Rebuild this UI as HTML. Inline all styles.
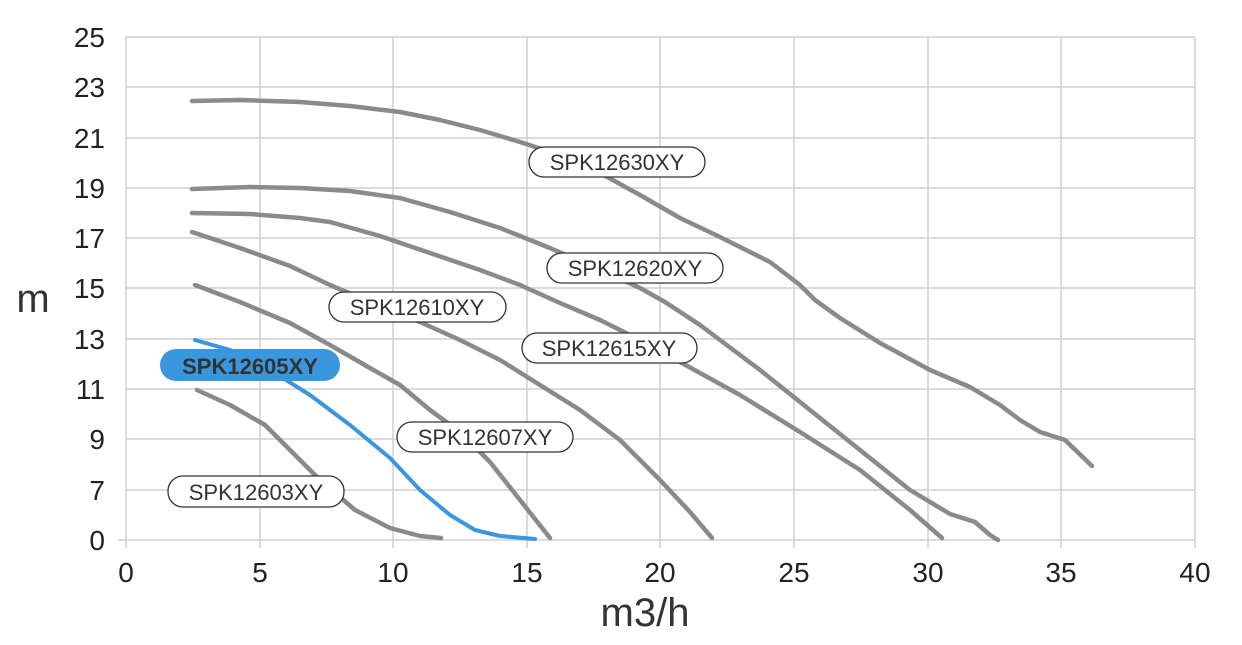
<!DOCTYPE html>
<html><head><meta charset="utf-8"><style>
body{margin:0;background:#fff}
svg{display:block}
text{font-family:"Liberation Sans",sans-serif}
</style></head><body>
<svg width="1242" height="645" viewBox="0 0 1242 645">
<g stroke="#d0d0d0" stroke-width="1.5">
<line x1="126" y1="37" x2="1195" y2="37"/><line x1="126" y1="87" x2="1195" y2="87"/>
<line x1="126" y1="138" x2="1195" y2="138"/><line x1="126" y1="188" x2="1195" y2="188"/>
<line x1="126" y1="238" x2="1195" y2="238"/><line x1="126" y1="288" x2="1195" y2="288"/>
<line x1="126" y1="339" x2="1195" y2="339"/><line x1="126" y1="389" x2="1195" y2="389"/>
<line x1="126" y1="439" x2="1195" y2="439"/><line x1="126" y1="490" x2="1195" y2="490"/>
<line x1="118" y1="540" x2="1195" y2="540"/>
<line x1="126" y1="37" x2="126" y2="548"/><line x1="260" y1="37" x2="260" y2="548"/>
<line x1="393" y1="37" x2="393" y2="548"/><line x1="527" y1="37" x2="527" y2="548"/>
<line x1="660" y1="37" x2="660" y2="548"/><line x1="794" y1="37" x2="794" y2="548"/>
<line x1="928" y1="37" x2="928" y2="548"/><line x1="1061" y1="37" x2="1061" y2="548"/>
<line x1="1195" y1="37" x2="1195" y2="548"/>
</g>
<g fill="#222" font-size="28" text-anchor="end">
<text x="105" y="47">25</text><text x="105" y="97">23</text><text x="105" y="148">21</text>
<text x="105" y="198">19</text><text x="105" y="248">17</text><text x="105" y="298">15</text>
<text x="105" y="349">13</text><text x="105" y="399">11</text><text x="105" y="449">9</text>
<text x="105" y="500">7</text><text x="105" y="550">0</text>
</g>
<g fill="#222" font-size="28" text-anchor="middle">
<text x="126" y="582">0</text><text x="260" y="582">5</text><text x="393" y="582">10</text>
<text x="527" y="582">15</text><text x="660" y="582">20</text><text x="794" y="582">25</text>
<text x="928" y="582">30</text><text x="1061" y="582">35</text><text x="1195" y="582">40</text>
</g>
<text x="33" y="312" font-size="40" fill="#333" text-anchor="middle">m</text>
<text x="645" y="626" font-size="40" fill="#333" text-anchor="middle">m3/h</text>
<g fill="none" stroke="#8a8a8a" stroke-width="4.5" stroke-linejoin="round" stroke-linecap="round">
<polyline points="192,101 240,100 300,102 350,106 400,112 440,120 480,130 520,142 560,155 600,173 640,195 680,218 720,237 770,262 800,285 815,300 840,318 880,343 930,370 970,387 1000,405 1020,420 1040,432 1065,440 1092,466"/>
<polyline points="192,189 250,187 300,188 350,191 400,198 450,212 500,228 550,248 600,270 640,288 665,302 700,325 760,370 810,410 860,450 910,490 950,514 975,522 990,535 998,540"/>
<polyline points="192,213 250,214 300,218 330,222 380,236 430,253 480,270 520,285 560,303 600,320 640,340 680,362 740,395 800,432 860,470 910,510 942,538"/>
<polyline points="192,232 240,248 290,266 330,285 370,302 420,322 460,340 500,360 540,385 580,410 620,440 660,480 690,512 712,538"/>
<polyline points="195,285 240,302 290,323 330,345 370,368 400,385 430,410 460,432 490,462 520,500 550,538"/>
<polyline points="197,390 230,405 265,425 290,450 320,480 355,510 390,528 420,536 441,538"/>
</g>
<polyline fill="none" stroke="#3a96dd" stroke-width="4" stroke-linejoin="round" stroke-linecap="round" points="195,340 230,350 270,370 310,395 350,425 390,458 420,490 450,515 475,530 500,536 535,539"/>
<g font-size="22" text-anchor="middle" fill="#333">
<rect x="529" y="147" width="176" height="30" rx="15" fill="#fff" stroke="#333" stroke-width="1.3"/><text x="617" y="170">SPK12630XY</text>
<rect x="547" y="253" width="176" height="30" rx="15" fill="#fff" stroke="#333" stroke-width="1.3"/><text x="635" y="276">SPK12620XY</text>
<rect x="329" y="292" width="177" height="30" rx="15" fill="#fff" stroke="#333" stroke-width="1.3"/><text x="417" y="315">SPK12610XY</text>
<rect x="522" y="333" width="175" height="30" rx="15" fill="#fff" stroke="#333" stroke-width="1.3"/><text x="609" y="356">SPK12615XY</text>
<rect x="397" y="422" width="176" height="30" rx="15" fill="#fff" stroke="#333" stroke-width="1.3"/><text x="485" y="445">SPK12607XY</text>
<rect x="168" y="476" width="176" height="31" rx="15" fill="#fff" stroke="#333" stroke-width="1.3"/><text x="256" y="500">SPK12603XY</text>
<rect x="160" y="349" width="180" height="32" rx="16" fill="#3a96dd"/><text x="250" y="374" font-weight="bold" font-size="22">SPK12605XY</text>
</g>
</svg>
</body></html>
